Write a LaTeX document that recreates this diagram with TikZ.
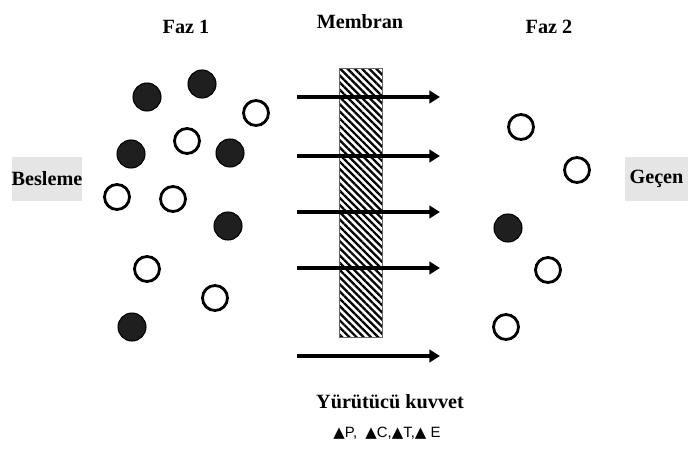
\documentclass[tikz,border=0pt]{standalone}
\usepackage{fontspec}
\setmainfont{Liberation Serif}
\newfontfamily\symfont{DejaVu Sans}
\newfontfamily\lblfont{Liberation Sans}
\usetikzlibrary{arrows.meta,patterns.meta}

\tikzset{
  baslik/.style={font=\fontsize{11.5}{13}\selectfont\bfseries},
  dolu/.style={circle,fill=black!88,draw=black,line width=0.6pt,minimum size=0.56cm,inner sep=0pt},
  bos/.style={circle,draw=black,line width=1.6pt,fill=white,minimum size=0.5cm,inner sep=0pt},
  akis/.style={line width=2.4pt,-{Triangle[length=6pt,width=7pt]}},
  kutu/.style={fill=black!10,font=\fontsize{11.5}{13}\selectfont\bfseries,inner sep=0pt,minimum height=0.9cm}
}

\begin{document}
\begin{tikzpicture}[x=0.02cm,y=-0.02cm]
\useasboundingbox (0,0) rectangle (688,449);

% Titles
\node[baslik] (faz1) at (186,27) {Faz 1};
\node[baslik] (mem) at (360,22) {Membran};
\node[baslik] (faz2) at (549,27) {Faz 2};

% Feed and permeate boxes
\node[kutu,minimum width=1.4cm] (besleme) at (47,179) {Besleme};
\node[kutu,minimum width=1.26cm] (gecen) at (656.5,179) {Geçen};

% Membrane
\node[draw=black!60,line width=0.5pt,minimum width=0.86cm,minimum height=5.38cm,inner sep=0pt,
  pattern={Lines[angle=-45,distance=2.9pt,line width=1.3pt]}] (membran) at (361,203) {};

% Driving force arrows
\foreach \y [count=\i] in {97,156,212,268,356} {
  \coordinate (s\i) at (297,\y);
  \coordinate (e\i) at (440,\y);
  \draw[akis] (s\i) -- (e\i);
}

% Phase 1 particles
\foreach \x/\y [count=\i] in {147/97,202/84,131/154,230/153,228/226,132/327}
  \node[dolu] (a\i) at (\x,\y) {};
\foreach \x/\y [count=\i] in {256/113,187/141,117/197,173/199,147/269,215/298}
  \node[bos] (b\i) at (\x,\y) {};

% Phase 2 particles
\node[dolu] (c1) at (508,228) {};
\foreach \x/\y [count=\i] in {521/127,577/170,548/270,506/327}
  \node[bos] (d\i) at (\x,\y) {};

% Label
\node[baslik] (kuvvet) at (390,402) {Yürütücü kuvvet};
\node[font=\fontsize{8.5}{10}\selectfont\lblfont] (fark) at (387,433)
  {{\symfont ▲}P,\ \ {\symfont ▲}C,{\symfont ▲}T,{\symfont ▲}\ E};

\end{tikzpicture}
\end{document}
